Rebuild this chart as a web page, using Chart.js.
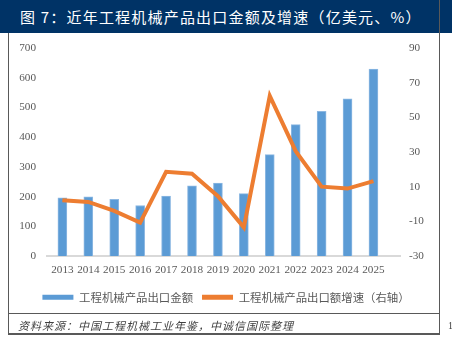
<!DOCTYPE html>
<html>
<head>
<meta charset="utf-8">
<script src="https://cdn.jsdelivr.net/npm/chart.js@4.4.1/dist/chart.umd.min.js"></script>
<style>
  html, body { margin: 0; padding: 0; background: #fff; }
  #page { position: relative; width: 452px; height: 351px; overflow: hidden; }
  #chart { position: absolute; left: 0; top: 0; }
  #title {
    position: absolute; left: 0; top: 0; width: 452px; height: 33px;
    background: #003366; color: #fff;
    font-family: "Noto Sans CJK SC", sans-serif; font-size: 15px;
    letter-spacing: 1.2px; line-height: 34px; padding-left: 20px; box-sizing: border-box;
    white-space: nowrap;
  }
  .rule { position: absolute; background: #595959; }
  #note {
    position: absolute; left: 18px; top: 317px;
    font-family: "Noto Sans CJK SC", sans-serif; font-size: 11px; font-style: italic;
    letter-spacing: 1px; color: #404040; line-height: 16px; white-space: nowrap;
  }
  #pageno {
    position: absolute; left: 448px; top: 320px; font-family: "Liberation Serif", serif;
    font-size: 10px; color: #404040;
  }
</style>
</head>
<body>
<div id="page">
  <canvas id="chart" width="452" height="351"></canvas>
  <div id="title">图 7：近年工程机械产品出口金额及增速（亿美元、%）</div>
  <div class="rule" style="left:439px; top:0; width:1px; height:335px;"></div>
  <div class="rule" style="left:8px; top:33px; width:1px; height:302px;"></div>
  <div class="rule" style="left:8px; top:313px; width:432px; height:1px;"></div>
  <div class="rule" style="left:8px; top:333px; width:432px; height:2px;"></div>
  <div id="note">资料来源：中国工程机械工业年鉴，中诚信国际整理</div>
  <div id="pageno">1</div>
</div>
<script>
// DATA

var years = [2013, 2014, 2015, 2016, 2017, 2018, 2019, 2020, 2021, 2022, 2023, 2024, 2025];
var exportValue = [196, 199, 191, 170, 202, 236, 245, 210, 341, 442, 487, 529, 629];   // 亿美元
var exportGrowth = [2.2, 1.2, -4.0, -10.7, 18.6, 17.5, 4.5, -13.5, 62.4, 30.5, 10.0, 8.9, 13.2]; // %
var leftTicks = [0, 100, 200, 300, 400, 500, 600, 700];
var rightTicks = [-30, -10, 10, 30, 50, 70, 90];
var seriesNames = ['工程机械产品出口金额', '工程机械产品出口额增速（右轴）'];

var tickColor = '#595959';
var tickFont = { family: "'Liberation Serif', 'Times New Roman', serif", size: 11.2 };

Chart.defaults.color = tickColor;

function toPoints(vals) {
  return years.map(function (y, i) { return { x: y, y: vals[i] }; });
}

function fixTicks(list) {
  return function (scale) {
    scale.ticks = list.map(function (v) { return { value: v }; });
  };
}

new Chart(document.getElementById('chart'), {
  data: {
    datasets: [
      {
        type: 'bar',
        label: seriesNames[0],
        data: toPoints(exportValue),
        backgroundColor: '#5B9BD5',
        borderColor: '#8DB8E2',
        borderWidth: 1,
        barThickness: 9,
        yAxisID: 'y',
        order: 1
      },
      {
        type: 'line',
        label: seriesNames[1],
        data: toPoints(exportGrowth),
        borderColor: '#ED7D31',
        backgroundColor: '#ED7D31',
        borderWidth: 4,
        pointRadius: 0,
        tension: 0,
        yAxisID: 'y1',
        order: 0
      }
    ]
  },
  options: {
    responsive: false,
    animation: false,
    devicePixelRatio: 1,
    layout: { padding: { top: 48, bottom: 38, left: 0, right: 0 } },
    scales: {
      x: {
        type: 'linear',
        min: 2012.93,
        max: 2025.5,
        grid: { display: false, drawTicks: false },
        border: { display: true, color: '#D9D9D9', width: 2 },
        ticks: {
          padding: 7, font: tickFont, color: tickColor,
          maxRotation: 0, minRotation: 0, autoSkip: false,
          callback: function (v) { return String(v); }
        },
        afterBuildTicks: fixTicks(years),
        afterFit: function (s) { s.height = 26.6; }
      },
      y: {
        position: 'left',
        min: 0, max: 700,
        grid: { display: false, drawTicks: false },
        border: { display: false },
        ticks: { padding: 11, font: tickFont, color: tickColor },
        afterBuildTicks: fixTicks(leftTicks),
        afterFit: function (s) { s.width = 47; }
      },
      y1: {
        position: 'right',
        min: -30, max: 90,
        grid: { display: false, drawTicks: false },
        border: { display: false },
        ticks: { padding: 9, font: tickFont, color: tickColor },
        afterBuildTicks: fixTicks(rightTicks),
        afterFit: function (s) { s.width = 52; }
      }
    },
    plugins: {
      tooltip: { enabled: false },
      legend: {
        position: 'bottom',
        labels: {
          boxWidth: 31,
          boxHeight: 5,
          padding: 9,
          color: tickColor,
          font: { family: "'Noto Sans CJK SC', sans-serif", size: 11.4 },
          sort: function (a, b) { return a.datasetIndex - b.datasetIndex; },
          generateLabels: function (chart) {
            var items = Chart.defaults.plugins.legend.labels.generateLabels(chart);
            items.forEach(function (it) { it.lineWidth = 0; });
            return items;
          }
        }
      }
    }
  }
});
</script>
</body>
</html>
